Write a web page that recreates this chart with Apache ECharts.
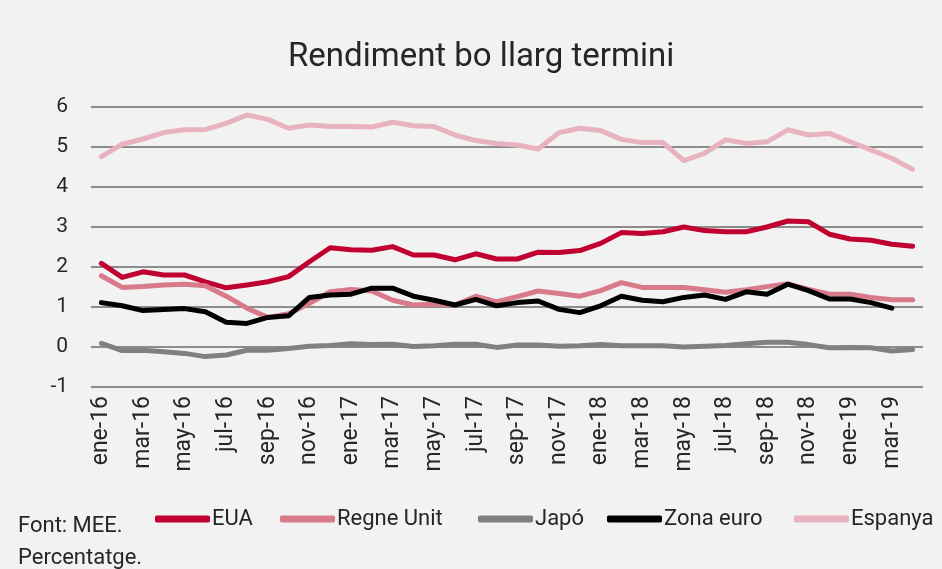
<!DOCTYPE html>
<html>
<head>
<meta charset="utf-8">
<script src="https://cdn.jsdelivr.net/npm/echarts@6/dist/echarts.min.js"></script>
<style>
  html, body { margin: 0; padding: 0; background: #f2f2f2; }
  #chart { width: 942px; height: 569px; }
</style>
</head>
<body>
<div id="chart"></div>
<script>
// mesos ene-16 .. abr-19
const months = ['ene', 'feb', 'mar', 'abr', 'may', 'jun', 'jul', 'ago', 'sep', 'oct', 'nov', 'dic']
const categories = []
for (const yy of ['16', '17', '18', '19']) {
  for (const m of months) categories.push(m + '-' + yy)
}
categories.length = 40

const eua = [2.09, 1.74, 1.88, 1.80, 1.80, 1.63, 1.48, 1.55, 1.63, 1.76,
  2.13, 2.48, 2.43, 2.42, 2.51, 2.30, 2.30, 2.18, 2.33, 2.20,
  2.20, 2.37, 2.36, 2.41, 2.59, 2.86, 2.84, 2.88, 3.00, 2.91,
  2.88, 2.88, 3.00, 3.15, 3.13, 2.82, 2.70, 2.67, 2.57, 2.52]

const regneUnit = [1.78, 1.49, 1.51, 1.55, 1.57, 1.53, 1.27, 0.97, 0.74, 0.83,
  1.09, 1.38, 1.44, 1.40, 1.17, 1.05, 1.07, 1.05, 1.27, 1.13,
  1.26, 1.40, 1.34, 1.27, 1.41, 1.61, 1.49, 1.49, 1.49, 1.43,
  1.37, 1.43, 1.51, 1.58, 1.44, 1.32, 1.32, 1.24, 1.18, 1.18]

const japo = [0.09, -0.09, -0.08, -0.12, -0.16, -0.24, -0.20, -0.08, -0.08, -0.04,
  0.02, 0.04, 0.08, 0.06, 0.07, 0.01, 0.03, 0.07, 0.07, -0.01,
  0.05, 0.05, 0.02, 0.03, 0.06, 0.03, 0.03, 0.03, 0.00, 0.02,
  0.04, 0.08, 0.12, 0.12, 0.06, -0.02, -0.01, -0.02, -0.10, -0.06]

const zonaEuro = [1.11, 1.03, 0.91, 0.94, 0.96, 0.88, 0.62, 0.59, 0.74, 0.78,
  1.24, 1.30, 1.32, 1.47, 1.47, 1.27, 1.17, 1.05, 1.19, 1.03,
  1.11, 1.15, 0.94, 0.86, 1.03, 1.27, 1.17, 1.13, 1.24, 1.30,
  1.19, 1.38, 1.32, 1.57, 1.41, 1.20, 1.20, 1.11, 0.97, null]

const espanya = [4.76, 5.07, 5.20, 5.36, 5.43, 5.44, 5.59, 5.80, 5.69, 5.47,
  5.55, 5.51, 5.51, 5.50, 5.62, 5.53, 5.51, 5.30, 5.16, 5.09,
  5.05, 4.95, 5.36, 5.47, 5.41, 5.19, 5.11, 5.11, 4.66, 4.84,
  5.18, 5.09, 5.13, 5.43, 5.30, 5.34, 5.13, 4.93, 4.72, 4.44]

const fontName = "Roboto, sans-serif"

const seriesDefs = [
  { name: 'EUA', data: eua, color: '#c0002f', legendLeft: 150 },
  { name: 'Regne Unit', data: regneUnit, color: '#d97a8b', legendLeft: 275 },
  { name: 'Japó', data: japo, color: '#808080', legendLeft: 473 },
  { name: 'Zona euro', data: zonaEuro, color: '#000000', legendLeft: 602 },
  { name: 'Espanya', data: espanya, color: '#e8b3bf', legendLeft: 789 }
]

const myChart = echarts.init(document.getElementById('chart'))

const option = {
  backgroundColor: '#f2f2f2',
  animation: false,
  textStyle: { fontFamily: fontName, color: '#262626' },
  title: {
    text: 'Rendiment bo llarg termini',
    left: 283,
    top: 36,
    textStyle: { fontFamily: fontName, fontSize: 33, fontWeight: 'normal', color: '#262626' }
  },
  // una llegenda per element per fixar-ne la posicio
  legend: seriesDefs.map((s) => ({
    left: s.legendLeft,
    top: 503,
    itemWidth: 55,
    itemHeight: 7,
    icon: 'roundRect',
    textStyle: { fontFamily: fontName, fontSize: 22, color: '#262626', padding: [0, 0, 0, -3] },
    data: [s.name]
  })),
  grid: {
    top: 107,
    left: 91,
    right: 19,
    bottom: 182
  },
  xAxis: {
    type: 'category',
    data: categories,
    boundaryGap: true,
    axisLine: { show: false },
    axisTick: { show: false },
    axisLabel: {
      interval: 1,
      rotate: 90,
      margin: 9,
      fontSize: 23,
      fontFamily: fontName,
      color: '#262626'
    }
  },
  yAxis: {
    type: 'value',
    min: -1,
    max: 6,
    interval: 1,
    axisLine: { show: false },
    axisTick: { show: false },
    axisLabel: { fontSize: 21, margin: 23, fontFamily: fontName, color: '#262626' },
    splitLine: { lineStyle: { color: '#8c8c8c', width: 2 } }
  },
  series: seriesDefs.map((s) => ({
    name: s.name,
    type: 'line',
    data: s.data,
    symbol: 'none',
    color: s.color,
    lineStyle: { width: 5, color: s.color, cap: 'round', join: 'round' }
  }))
}
myChart.setOption(option)

myChart.getZr().add(new echarts.graphic.Text({
  style: { text: 'Font: MEE.', x: 18, y: 515, fontSize: 22, fontFamily: fontName, fill: '#262626' }
}))
myChart.getZr().add(new echarts.graphic.Text({
  style: { text: 'Percentatge.', x: 18, y: 547, fontSize: 22, fontFamily: fontName, fill: '#262626' }
}))
</script>
</body>
</html>
